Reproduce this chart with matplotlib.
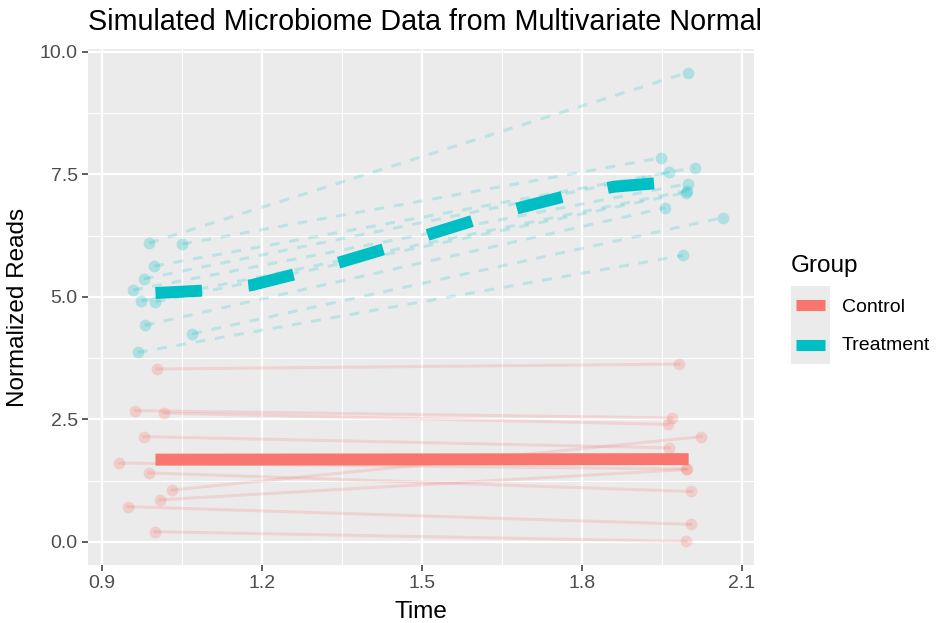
import numpy as np
import matplotlib.pyplot as plt
from matplotlib.lines import Line2D

plt.rcParams['font.family'] = ['Liberation Sans', 'DejaVu Sans']

RED = '#F8766D'
CYAN = '#00BFC4'

# control subjects: (time 1 jittered, reads) -> (time 2 jittered, reads)
ctrl_t1 = [1.002, 0.962, 1.016, 0.978, 0.932, 0.987, 1.031, 1.008, 0.948, 0.999]
ctrl_y1 = [3.53, 2.68, 2.63, 2.15, 1.61, 1.41, 1.06, 0.86, 0.72, 0.21]
ctrl_t2 = [1.982, 1.969, 1.962, 1.964, 1.995, 2.005, 2.024, 1.997, 2.004, 1.995]
ctrl_y2 = [3.63, 2.53, 2.40, 1.92, 1.49, 1.03, 2.15, 1.48, 0.36, 0.01]

# treatment subjects
trt_t1 = [0.988, 1.050, 0.998, 0.978, 0.958, 0.973, 1.000, 0.980, 1.069, 0.967]
trt_y1 = [6.10, 6.08, 5.63, 5.37, 5.14, 4.92, 4.90, 4.42, 4.25, 3.87]
trt_t2 = [1.998, 1.949, 2.011, 1.964, 1.998, 1.997, 1.995, 1.956, 2.064, 1.990]
trt_y2 = [9.58, 7.84, 7.64, 7.54, 7.31, 7.17, 7.13, 6.82, 6.62, 5.85]

# group trends
ctrl_mean_t = [1.0, 2.0]
ctrl_mean_y = [1.68, 1.69]
trt_mean_t = [1.0, 1.09, 1.18, 1.26, 1.35, 1.43, 1.52, 1.60, 1.69, 1.77, 1.86, 1.95, 2.0]
trt_mean_y = [5.08, 5.13, 5.24, 5.46, 5.72, 5.98, 6.30, 6.57, 6.84, 7.06, 7.25, 7.33, 7.36]

groups = ['Control', 'Treatment']


def draw_subjects(ax, t1, y1, t2, y2, color, ls):
    for a, b, c, d in zip(t1, y1, t2, y2):
        line, = ax.plot([a, c], [b, d], color=color, alpha=0.2, lw=2.2, ls=ls, zorder=2)
        if ls == '--':
            line.set_dashes((3.2, 3.2))
    ax.plot(t1 + t2, y1 + y2, 'o', color=color, alpha=0.25, ms=8.5, mew=0, zorder=3)


fig = plt.figure(figsize=(9.36, 6.23), dpi=100)
ax = fig.add_axes([88/936, 58/623, 666/936, 516/623])
ax.set_facecolor('#EBEBEB')

draw_subjects(ax, ctrl_t1, ctrl_y1, ctrl_t2, ctrl_y2, RED, '-')
draw_subjects(ax, trt_t1, trt_y1, trt_t2, trt_y2, CYAN, '--')

ax.plot(ctrl_mean_t, ctrl_mean_y, color=RED, lw=8.6, solid_capstyle='butt', zorder=4)
m, = ax.plot(trt_mean_t, trt_mean_y, color=CYAN, lw=8.6, dash_capstyle='butt', zorder=4)
m.set_dashes((3.9, 3.9))

ax.set_xlim(0.8734, 2.1226)
ax.set_ylim(-0.47, 10.06)
ax.set_xticks([0.9, 1.2, 1.5, 1.8, 2.1])
ax.set_xticklabels(['0.9', '1.2', '1.5', '1.8', '2.1'])
ax.set_yticks([0, 2.5, 5, 7.5, 10])
ax.set_yticklabels(['0.0', '2.5', '5.0', '7.5', '10.0'])
ax.set_xticks([1.05, 1.35, 1.65, 1.95], minor=True)
ax.set_yticks([1.25, 3.75, 6.25, 8.75], minor=True)
ax.grid(which='major', color='white', lw=1.6)
ax.grid(which='minor', color='white', lw=0.8)
ax.set_axisbelow(True)
ax.tick_params(which='major', length=4.4, width=1.1, color='#333333',
               labelcolor='#4D4D4D', labelsize=14, pad=3)
ax.tick_params(which='minor', length=0)
for s in ax.spines.values():
    s.set_visible(False)

ax.set_xlabel('Time', fontsize=17.5, labelpad=6)
ax.set_ylabel('Normalized Reads', fontsize=17.5, labelpad=8)

fig.text(88/936, 1 - 30/623, 'Simulated Microbiome Data from Multivariate Normal',
         fontsize=20.7, va='baseline', ha='left')

# legend
fig.text(791/936, 1 - 272/623, 'Group', fontsize=17.5, va='baseline', ha='left')
lax = fig.add_axes([791/936, 1 - 364/623, 39/936, 78/623])
lax.set_facecolor('#EBEBEB')
lax.set_xlim(0, 1)
lax.set_ylim(0, 2)
lax.set_xticks([])
lax.set_yticks([])
for s in lax.spines.values():
    s.set_visible(False)
for i, (g, c) in enumerate(zip(groups, [RED, CYAN])):
    lax.plot([0.12, 0.88], [1.5 - i, 1.5 - i], color=c, lw=8, solid_capstyle='butt')
    fig.text(842/936, 1 - (307 + 38.5*i)/623, g, fontsize=14, va='center', ha='left')

fig.savefig('out.png', dpi=100)
